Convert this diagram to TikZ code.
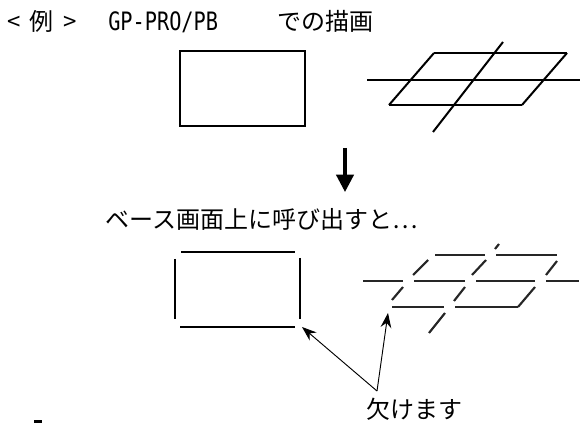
\documentclass[tikz,border=0pt]{standalone}
\usepackage{fontspec}
\setmainfont{Noto Sans CJK JP}
\newfontfamily\gpmono{DejaVu Sans Mono}
\usetikzlibrary{arrows.meta}
\begin{document}
\begin{tikzpicture}[x=0.75pt,y=-0.75pt,
  ln/.style={line width=1.5pt,black},
  gl/.style={line width=1.6pt,black!85},
  pt/.style={line width=0.7pt,-{Stealth[length=11pt,width=8pt]}},
  txt/.style={inner sep=0pt,font=\fontsize{18pt}{20pt}\selectfont},
  ttl/.style={inner sep=0pt,font=\fontsize{18pt}{20pt}\selectfont}]
\useasboundingbox (0,0) rectangle (580,423);
% title
\node[ttl,anchor=west] (t1) at (7,21) {<\hspace{7pt}例\hspace{7pt}>};
\node[ttl,anchor=west] (t2) at (108,22) {\scalebox{0.8}[1]{\gpmono\fontsize{19pt}{21pt}\selectfont GP-PRO/PB}};
\node[ttl,anchor=west] (t3) at (277,21) {での描画};
% top rectangle
\node[ln,draw,minimum width=125*0.75pt,minimum height=75*0.75pt,inner sep=0pt] (r1) at (242.5,89) {};
% top grid
\draw[ln] (434,53) -- (567,53);
\draw[ln] (367,80) -- (580,80);
\draw[ln] (389,105) -- (522,105);
\draw[ln] (434,53) -- (389,105);
\draw[ln] (567,53) -- (522,105);
\draw[ln] (503,42) -- (433,132);
% down arrow
\coordinate (a1) at (345,148);
\coordinate (a2) at (345,192);
\draw[line width=2.4pt,-{Triangle[length=13pt,width=13pt]}] (a1) -- (a2);
% middle text
\node[txt] (m) at (262,219) {ベース画面上に呼び出すと…};
% bottom rectangle (broken)
\draw[ln] (181,252) -- (295,252);
\draw[ln] (175,259) -- (175,319);
\draw[ln] (300,258) -- (300,319);
\draw[ln] (180,327) -- (295,327);
% bottom grid (broken)
\draw[gl] (435,255) -- (485,255);
\draw[gl] (496,255) -- (557,255);
\draw[gl] (363,281) -- (403,281);
\draw[gl] (414,281) -- (465,281);
\draw[gl] (476,281) -- (535,281);
\draw[gl] (546,281) -- (579,281);
\draw[gl] (392,307) -- (444,307);
\draw[gl] (455,307) -- (518,307);
\draw[gl] (428,260) -- (413,275);
\draw[gl] (403,287) -- (392,300);
\draw[gl] (499,244) -- (495,249);
\draw[gl] (486,260) -- (472,275);
\draw[gl] (465,287) -- (454,301);
\draw[gl] (445,313) -- (429,333);
\draw[gl] (557,261) -- (546,275);
\draw[gl] (535,287) -- (518,307);
% label and pointers
\node[txt] (lbl) at (414,409) {欠けます};
\coordinate (tail) at (377,391);
\coordinate (tipA) at (302,327);
\coordinate (tipB) at (388,313);
\draw[pt] (tail) -- (tipA);
\draw[pt] (tail) -- (tipB);
% cut-off mark at bottom edge
\fill (34,420) rectangle (42,423);
\end{tikzpicture}
\end{document}
